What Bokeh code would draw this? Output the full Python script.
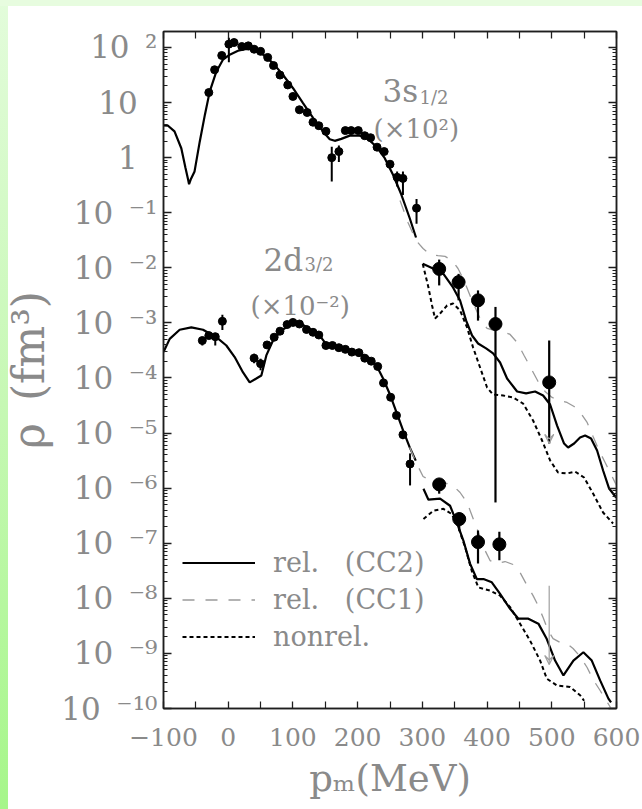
from bokeh.plotting import figure
from bokeh.models import (FixedTicker, LinearAxis, LogAxis, Label, Legend,
                          LegendItem, Arrow, VeeHead, Range1d)
from bokeh.embed import file_html
from bokeh.resources import INLINE

# ---------------------------------------------------------------- data
# 3s1/2 momentum distribution (x 10^2): low-momentum measurements
s_pm = [-30, -21, -10, 1, 9, 21, 31, 40, 50, 61, 70, 80, 92, 100, 110, 122, 131, 140,
        151, 160, 171, 181, 190, 201, 211, 220, 230, 241, 250, 261, 270, 291]
s_rho = [15.2, 39.4, 71.6, 115, 123, 104, 107, 93, 85, 66, 47, 31.6, 20.9, 12.9, 7.4, 6.6,
         4.4, 3.8, 3.0, 1.0, 1.29, 3.1, 3.1, 3.1, 2.5, 2.3, 1.55, 1.29, 0.76, 0.44, 0.42, 0.121]
s_lo = [15.2, 39.4, 71.6, 54, 123, 104, 107, 93, 85, 66, 47, 31.6, 20.9, 12.9, 7.4, 6.6,
        4.4, 3.8, 3.0, 0.37, 0.83, 3.1, 3.1, 3.1, 2.5, 2.3, 1.55, 1.29, 0.76, 0.30, 0.21, 0.063]
s_hi = [15.2, 39.4, 71.6, 150, 123, 104, 107, 93, 85, 66, 47, 31.6, 20.9, 12.9, 7.4, 6.6,
        4.4, 3.8, 3.0, 1.58, 1.66, 3.1, 3.1, 3.1, 2.5, 2.3, 1.55, 1.29, 0.76, 0.56, 0.56, 0.178]

# 3s1/2 high-momentum measurements
s_hp_pm = [326, 356, 386, 413, 496]
s_hp_rho = [9.55e-3, 5.50e-3, 2.57e-3, 9.55e-4, 8.32e-5]
s_hp_lo = [4.79e-3, 2.57e-3, 1.10e-3, 5.50e-7, 6.5e-6]
s_hp_hi = [1.41e-2, 7.76e-3, 3.89e-3, 1.95e-3, 4.79e-4]
s_lim_top = [1.2e-5]
s_lim_bottom = [6.5e-6]

# 3s1/2 calculation, low momenta
s_cal_pm = [-100, -93, -83, -72.5, -66, -62, -60.5, -58, -52, -44, -36, -28.6, -18.4, -8, 2.3,
            15.2, 28, 41, 53.8, 69.2, 84.7, 100.2, 115.6, 131.1, 146.5, 156.9, 164.6, 174.8,
            187.8, 203.3, 216.1, 228.9, 241.9, 254.7, 267.5, 280.5, 290.2]
s_cal_rho = [3.84, 3.80, 2.99, 1.48, 0.646, 0.40, 0.33, 0.40, 0.562, 1.95, 6.03, 15.8, 36.3,
             60.3, 74.1, 87.1, 94.4, 91.2, 74.1, 52.0, 31.6, 18.2, 9.77, 5.25, 2.99, 2.16,
             2.02, 2.19, 2.51, 2.51, 2.19, 1.58, 0.977, 0.490, 0.214, 0.0794, 0.0355]

# 3s1/2 calculations, high momenta
s_cc2_pm = [300.6, 316.5, 332.0, 347.4, 358.3, 367.5, 376.8, 386.1, 398.5, 409.3, 420.1,
            430.9, 446.4, 460.3, 474.2, 486.6, 497.4, 508.2, 519.0, 525.2, 534.5, 543.7,
            551.5, 560.7, 570.0, 579.3, 588.6, 599.4]
s_cc2_rho = [1.18e-2, 9.72e-3, 7.89e-3, 4.40e-3, 2.55e-3, 1.11e-3, 5.90e-4, 4.23e-4, 3.44e-4,
             2.79e-4, 1.91e-4, 9.79e-5, 5.69e-5, 5.24e-5, 5.69e-5, 4.81e-5, 3.30e-5, 1.37e-5,
             6.46e-6, 5.47e-6, 6.46e-6, 8.30e-6, 9.02e-6, 7.96e-6, 4.82e-6, 2.09e-6, 9.84e-7,
             6.76e-7]
s_cc1_pm = [265.5, 277.8, 290.3, 301.1, 311.9, 324.2, 335.1, 345.9, 355.1, 364.4, 376.8,
            389.2, 400.0, 412.4, 424.7, 435.6, 446.4, 457.2, 468.0, 478.8, 489.6, 500.5,
            512.8, 523.6, 534.5, 545.3, 554.6, 563.8, 573.1, 582.4, 591.7, 599.4]
s_cc1_rho = [0.167, 0.0665, 0.0313, 0.0224, 0.0175, 0.0167, 0.0161, 0.0136, 9.72e-3, 5.89e-3,
             2.55e-3, 1.20e-3, 7.93e-4, 7.28e-4, 6.98e-4, 6.17e-4, 4.42e-4, 2.56e-4, 1.49e-4,
             8.65e-5, 5.69e-5, 4.43e-5, 3.91e-5, 3.59e-5, 3.04e-5, 2.26e-5, 1.56e-5, 8.67e-6,
             4.82e-6, 2.92e-6, 1.77e-6, 1.16e-6]
s_nr_pm = [300.6, 309.3, 315.0, 319.6, 327.4, 338.2, 347.4, 358.3, 369.1, 378.4, 389.2, 400.0,
           409.3, 424.7, 440.2, 455.6, 471.1, 485.0, 497.4, 509.7, 523.6, 536.0, 549.9, 563.8,
           579.3, 594.7]
s_nr_rho = [1.18e-2, 4.45e-3, 2.07e-3, 1.20e-3, 1.48e-3, 2.07e-3, 2.25e-3, 1.68e-3, 8.26e-4,
            3.58e-4, 1.55e-4, 6.71e-5, 5.01e-5, 4.81e-5, 4.43e-5, 3.44e-5, 1.69e-5, 7.33e-6,
            3.18e-6, 1.92e-6, 1.85e-6, 2.00e-6, 1.56e-6, 8.00e-7, 3.61e-7, 2.28e-7]

# 2d3/2 momentum distribution (x 10^-2): low-momentum measurements
d_pm = [-40, -30, -20, -9, 40, 50, 60, 71, 80, 91, 100, 110, 121, 131, 140, 151, 161, 171,
        181, 191, 202, 211, 221, 231, 240, 251, 260, 270, 281]
d_rho = [4.79e-4, 5.89e-4, 5.62e-4, 1.07e-3, 2.29e-4, 1.82e-4, 3.98e-4, 5.50e-4, 7.08e-4,
         9.33e-4, 1.02e-3, 9.55e-4, 7.59e-4, 6.76e-4, 6.03e-4, 3.89e-4, 3.89e-4, 3.55e-4,
         3.31e-4, 2.95e-4, 2.88e-4, 2.29e-4, 2.02e-4, 1.62e-4, 8.13e-5, 4.47e-5, 2.09e-5,
         9.33e-6, 2.75e-6]
d_lo = [3.89e-4, 5.89e-4, 3.89e-4, 7.41e-4, 1.86e-4, 1.38e-4, 3.98e-4, 5.50e-4, 7.08e-4,
        9.33e-4, 1.02e-3, 9.55e-4, 7.59e-4, 6.76e-4, 6.03e-4, 3.89e-4, 3.89e-4, 3.55e-4,
        3.31e-4, 2.95e-4, 2.88e-4, 2.29e-4, 2.02e-4, 1.62e-4, 8.13e-5, 4.47e-5, 2.09e-5,
        7.76e-6, 1.12e-6]
d_hi = [5.50e-4, 5.89e-4, 6.3e-4, 1.41e-3, 2.75e-4, 2.24e-4, 3.98e-4, 5.50e-4, 7.08e-4,
        9.33e-4, 1.02e-3, 9.55e-4, 7.59e-4, 6.76e-4, 6.03e-4, 3.89e-4, 3.89e-4, 3.55e-4,
        3.31e-4, 2.95e-4, 2.88e-4, 2.29e-4, 2.02e-4, 1.62e-4, 8.13e-5, 4.47e-5, 2.09e-5,
        1.12e-5, 4.27e-6]

# 2d3/2 high-momentum measurements and upper limit
d_hp_pm = [326, 357, 386, 419]
d_hp_rho = [1.17e-6, 2.75e-7, 1.05e-7, 9.55e-8]
d_hp_lo = [7.94e-7, 1.70e-7, 4.27e-8, 4.90e-8]
d_hp_hi = [1.48e-6, 3.63e-7, 1.70e-7, 1.62e-7]
d_lim_pm = [496]
d_lim_top = [1.70e-8]
d_lim_bottom = [6.3e-10]

# 2d3/2 calculation, low momenta
d_cal_pm = [-100, -90.4, -75, -57, -38.9, -18.4, -2.9, 10, 22.9, 33.2, 43.4, 51.2, 58.9,
            69.2, 82.1, 97.5, 110.5, 126, 141.4, 151.6, 172.3, 198, 218.7, 228.9, 239.3,
            249.6, 259.9, 270.2, 280.5, 289.8]
d_cal_rho = [2.95e-4, 5.13e-4, 7.50e-4, 8.32e-4, 7.50e-4, 5.50e-4, 3.89e-4, 2.40e-4, 1.26e-4,
             8.32e-5, 9.77e-5, 1.11e-4, 2.57e-4, 4.79e-4, 7.24e-4, 9.55e-4, 1.00e-3, 7.76e-4,
             5.89e-4, 4.07e-4, 3.55e-4, 3.02e-4, 2.29e-4, 1.70e-4, 9.77e-5, 5.13e-5, 2.40e-5,
             1.12e-5, 5.50e-6, 3.16e-6]

# 2d3/2 calculations, high momenta
d_cc2_pm = [301.7, 309.4, 327.4, 342.8, 353.2, 363.4, 373.7, 384.1, 394.4, 407.3, 420.1,
            435.6, 448.4, 463.8, 479.3, 492.3, 505.1, 518.0, 533.4, 548.8, 561.8, 574.7,
            587.5, 591.6]
d_cc2_rho = [9.77e-7, 6.17e-7, 6.46e-7, 4.79e-7, 2.40e-7, 1.12e-7, 4.27e-8, 2.24e-8, 2.24e-8,
             1.95e-8, 1.20e-8, 6.46e-9, 4.27e-9, 4.27e-9, 3.47e-9, 1.82e-9, 7.41e-10,
             3.98e-10, 7.41e-10, 1.05e-9, 7.41e-10, 3.24e-10, 1.51e-10, 1.29e-10]
d_cc1_pm = [280.5, 290.3, 301.1, 315.0, 328.9, 345.9, 358.3, 369.1, 378.4, 386.1, 395.4,
            404.6, 415.5, 427.8, 440.2, 451.0, 461.8, 471.1, 478.8, 486.6, 494.3, 502.0,
            512.8, 523.6, 532.9, 543.7, 554.6, 563.8, 574.7, 584.0, 591.7]
d_cc1_rho = [5.50e-6, 2.92e-6, 1.63e-6, 1.32e-6, 1.27e-6, 1.16e-6, 8.34e-7, 5.48e-7, 2.81e-7,
             1.63e-7, 8.02e-8, 4.85e-8, 4.28e-8, 4.66e-8, 4.11e-8, 2.94e-8, 1.71e-8, 1.12e-8,
             7.40e-9, 4.48e-9, 2.60e-9, 1.86e-9, 1.58e-9, 1.51e-9, 1.23e-9, 8.79e-10,
             5.55e-10, 3.36e-10, 2.12e-10, 1.40e-10, 1.0e-10]
d_nr_pm = [301.7, 317.0, 332.5, 345.4, 355.6, 366.0, 376.3, 386.6, 404.6, 420.1, 435.6, 451.0,
           466.5, 482.0, 492.3, 507.7, 528.3, 543.8, 549.9]
d_nr_rho = [2.75e-7, 3.89e-7, 4.22e-7, 3.39e-7, 1.95e-7, 8.51e-8, 3.16e-8, 1.58e-8, 1.38e-8,
            1.12e-8, 6.92e-9, 3.47e-9, 1.70e-9, 7.41e-10, 3.47e-10, 2.63e-10, 2.45e-10,
            1.74e-10, 1.38e-10]

# axis ticks
x_major = list(range(-100, 601, 100))
x_minor = list(range(-50, 551, 100))
y_decades = list(range(-10, 3))

# ---------------------------------------------------------------- layout
W, H = 642, 809
B_LEFT, B_RIGHT, B_TOP, B_BOTTOM = 163, 26, 31, 101
X_MIN, X_MAX = -100, 600
LOG_MIN, LOG_MAX = -10.0, 2.29
FRAME_W = W - B_LEFT - B_RIGHT
FRAME_H = H - B_TOP - B_BOTTOM
PX_X = FRAME_W / (X_MAX - X_MIN)
PX_DEC = FRAME_H / (LOG_MAX - LOG_MIN)


def at_x(px):
    """data x of a canvas column (used to place text inside the frame)"""
    return X_MIN + (px - B_LEFT) / PX_X


def at_y(py):
    """data y of a canvas row"""
    return 10 ** (LOG_MAX - (py - B_TOP) / PX_DEC)


GRAY = "#8a8a8a"
SERIF = "DejaVu Serif"
INK = "#1e1e1e"

p = figure(width=W, height=H, x_range=Range1d(X_MIN, X_MAX),
           y_range=Range1d(10 ** LOG_MIN, 10 ** LOG_MAX), y_axis_type="log",
           output_backend="svg", toolbar_location=None,
           min_border_left=B_LEFT, min_border_right=B_RIGHT,
           min_border_top=B_TOP, min_border_bottom=B_BOTTOM,
           border_fill_color=None, background_fill_color="white",
           outline_line_color=INK, outline_line_width=1.5)
p.grid.visible = False
p.styles = {
    "background": ("linear-gradient(#e7fcdf, #e7fcdf) 0 0 / 100% 6px no-repeat, "
                   "linear-gradient(180deg, #e3fcdb 0%, #c6f8b4 50%, #a6f68a 100%) "
                   "0 0 / 8px 100% no-repeat, #ffffff"),
}


def frame_ticks(ax, major, minor, major_len, minor_len):
    ax.ticker = FixedTicker(ticks=major, minor_ticks=minor)
    ax.major_tick_in = major_len
    ax.major_tick_out = 0
    ax.minor_tick_in = minor_len
    ax.minor_tick_out = 0
    ax.axis_line_color = INK
    ax.axis_line_width = 1.5
    ax.major_tick_line_color = INK
    ax.major_tick_line_width = 1.3
    ax.minor_tick_line_color = INK
    ax.minor_tick_line_width = 1.2


# x axes: labelled bottom, mirrored top
xb = p.xaxis[0]
frame_ticks(xb, x_major, x_minor, 7, 7)
xb.major_label_overrides = {t: str(t).replace("-", "\u2212") for t in x_major}
xb.major_label_standoff = 19
xb.major_label_text_font = SERIF
xb.major_label_text_font_size = "25px"
xb.major_label_text_color = GRAY
xb.axis_label = "p\u2098(MeV)"
xb.axis_label_standoff = 8
xb.axis_label_text_font = SERIF
xb.axis_label_text_font_size = "37px"
xb.axis_label_text_font_style = "normal"
xb.axis_label_text_color = GRAY

xt = LinearAxis()
frame_ticks(xt, x_major, x_minor, 7, 7)
xt.major_label_text_color = None
xt.major_label_standoff = 0
p.add_layout(xt, "above")

# y axes: ticks on both sides of the frame
y_major = [10.0 ** e for e in y_decades]
y_minor = [m * 10.0 ** e for e in y_decades for m in range(2, 10) if m * 10.0 ** e <= 10 ** LOG_MAX]

yl = p.yaxis[0]
frame_ticks(yl, y_major, y_minor, 8, 4)
yl.major_label_text_color = None
yl.major_label_standoff = 0

yr = LogAxis()
frame_ticks(yr, y_major, y_minor, 8, 4)
yr.major_label_text_color = None
yr.major_label_standoff = 0
p.add_layout(yr, "right")

# decade labels "10" followed by a raised exponent
SUP = str.maketrans("-0123456789", "\u207b\u2070\u00b9\u00b2\u00b3\u2074\u2075\u2076\u2077\u2078\u2079")
decade_text = {}
for e in y_decades:
    if e == 0:
        decade_text[10.0 ** e] = "1\u2007"
    elif e == 1:
        decade_text[10.0 ** e] = "10\u2007"
    else:
        decade_text[10.0 ** e] = "10\u2002" + str(e).translate(SUP)

ylab = LogAxis()
ylab.ticker = FixedTicker(ticks=y_major, minor_ticks=[])
ylab.axis_line_color = None
ylab.major_tick_line_color = None
ylab.minor_tick_line_color = None
ylab.major_tick_in = 0
ylab.major_tick_out = 0
ylab.major_label_overrides = decade_text
ylab.major_label_standoff = 6
ylab.major_label_text_font = SERIF
ylab.major_label_text_font_size = "31px"
ylab.major_label_text_color = GRAY
ylab.axis_label = "\u03c1\u2002(fm\u00b3)"
ylab.axis_label_standoff = 4
ylab.axis_label_text_font = SERIF
ylab.axis_label_text_font_size = "44px"
ylab.axis_label_text_font_style = "normal"
ylab.axis_label_text_color = GRAY
p.add_layout(ylab, "left")

# curve labels
for txt, px, py, size in [("3s", 382, 90, "31px"), ("1/2", 419, 97, "18px"),
                          ("(\u00d710\u00b2)", 373, 128, "26px"),
                          ("2d", 263, 259, "31px"), ("3/2", 304, 264, "18px"),
                          ("(\u00d710\u207b\u00b2)", 250, 305, "26px")]:
    p.add_layout(Label(x=at_x(px), y=at_y(py), text=txt, text_font=SERIF,
                       text_font_size=size, text_color=GRAY, text_baseline="alphabetic"))

# ---------------------------------------------------------------- curves
SOLID = dict(line_color="black", line_width=2.2)
CC1 = dict(line_color="#9a9a9a", line_width=1.3, line_dash="12 11")
NONREL = dict(line_color="black", line_width=2.0, line_dash="4 3")

p.line(s_cal_pm, s_cal_rho, **SOLID)
p.line(d_cal_pm, d_cal_rho, **SOLID)
r_cc1 = p.line(s_cc1_pm, s_cc1_rho, **CC1)
p.line(d_cc1_pm, d_cc1_rho, **CC1)
r_nr = p.line(s_nr_pm, s_nr_rho, **NONREL)
p.line(d_nr_pm, d_nr_rho, **NONREL)
r_cc2 = p.line(s_cc2_pm, s_cc2_rho, **SOLID)
p.line(d_cc2_pm, d_cc2_rho, **SOLID)

# ---------------------------------------------------------------- data points
p.segment(x0=s_pm, y0=s_lo, x1=s_pm, y1=s_hi, line_color="black", line_width=2)
p.segment(x0=d_pm, y0=d_lo, x1=d_pm, y1=d_hi, line_color="black", line_width=2)
p.segment(x0=s_hp_pm, y0=s_hp_lo, x1=s_hp_pm, y1=s_hp_hi, line_color="black", line_width=2.2)
p.segment(x0=d_hp_pm, y0=d_hp_lo, x1=d_hp_pm, y1=d_hp_hi, line_color="black", line_width=2.2)
p.segment(x0=d_lim_pm, y0=d_lim_top, x1=d_lim_pm, y1=d_lim_bottom, line_color="#a0a0a0",
          line_width=1.2)

p.scatter(s_pm, s_rho, size=8, color="black")
p.scatter(d_pm, d_rho, size=8, color="black")
p.scatter(s_hp_pm, s_hp_rho, size=13, color="black")
p.scatter(d_hp_pm, d_hp_rho, size=13, color="black")

for xs, top, bottom in [(d_lim_pm, d_lim_top, d_lim_bottom), ([s_hp_pm[-1]], s_lim_top, s_lim_bottom)]:
    p.add_layout(Arrow(x_start=xs[0], y_start=top[0], x_end=xs[0], y_end=bottom[0],
                       line_alpha=0,
                       end=VeeHead(size=9, line_color="#a0a0a0", line_width=1.2,
                                   fill_alpha=0)))

# ---------------------------------------------------------------- legend
legend = Legend(items=[LegendItem(label="rel.\u00a0\u00a0\u00a0(CC2)", renderers=[r_cc2]),
                       LegendItem(label="rel.\u00a0\u00a0\u00a0(CC1)", renderers=[r_cc1]),
                       LegendItem(label="nonrel.", renderers=[r_nr])],
                location=(19, 56), glyph_width=73, glyph_height=31, label_height=31,
                spacing=6, padding=0, margin=0, label_standoff=18,
                border_line_color=None, background_fill_alpha=0,
                label_text_font=SERIF, label_text_font_size="27px",
                label_text_color=GRAY, label_text_baseline="alphabetic")
p.add_layout(legend)

with open("out.html", "w") as f:
    f.write(file_html(p, INLINE))
